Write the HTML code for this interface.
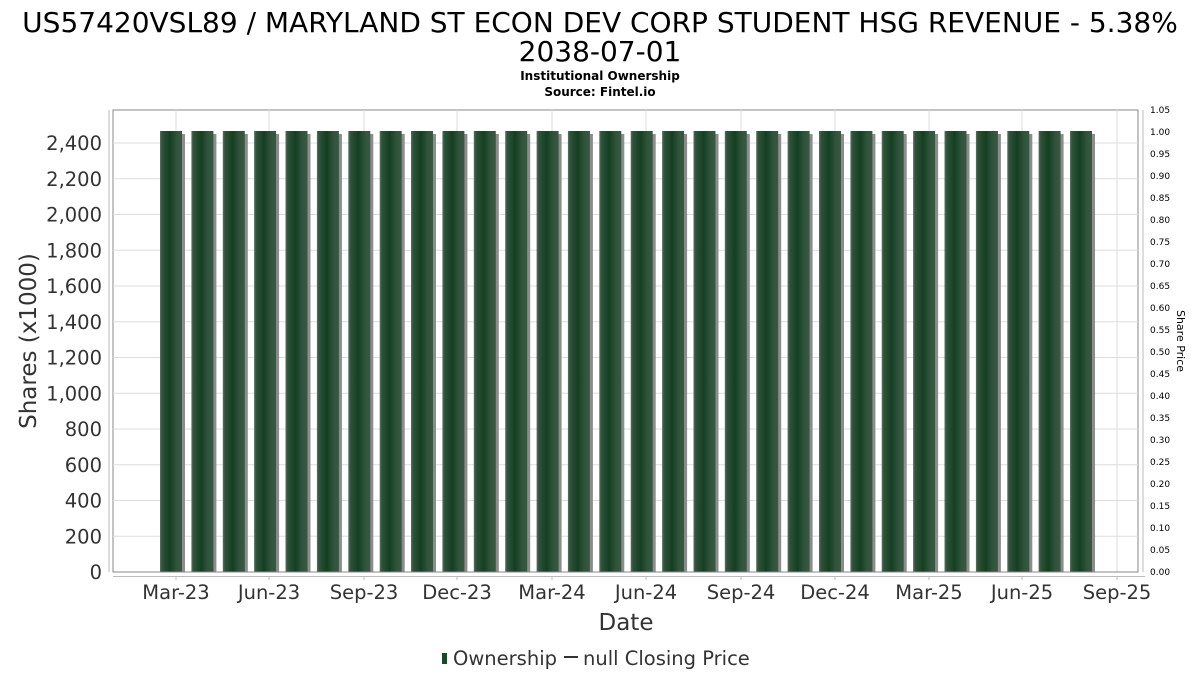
<!DOCTYPE html>
<html><head><meta charset="utf-8"><style>
body{margin:0;background:#fff;}
svg{display:block;font-family:"DejaVu Sans","Liberation Sans",sans-serif;}
</style></head><body>
<svg width="1200" height="675" viewBox="0 0 1200 675">
<defs>
<linearGradient id="g" x1="0" x2="1" y1="0" y2="0">
<stop offset="0" stop-color="#55745e"/><stop offset="0.1" stop-color="#2f523a"/><stop offset="0.45" stop-color="#143f22"/><stop offset="0.75" stop-color="#30533b"/><stop offset="1" stop-color="#3a5843"/>
</linearGradient>
<g id="b"><rect x="3" y="134" width="22" height="438" fill="#8c8c8c"/><rect x="0" y="131" width="22" height="441" fill="url(#g)"/></g>
</defs>
<text x="600" y="32" font-size="28" text-anchor="middle" fill="#000">US57420VSL89 / MARYLAND ST ECON DEV CORP STUDENT HSG REVENUE - 5.38%</text>
<text x="600" y="61" font-size="28" text-anchor="middle" fill="#000">2038-07-01</text>
<text x="600" y="80" font-size="12" font-weight="bold" text-anchor="middle">Institutional Ownership</text>
<text x="600" y="96" font-size="12" font-weight="bold" text-anchor="middle">Source: Fintel.io</text>
<rect x="113" y="110" width="1025" height="462" fill="#fff" stroke="#888" stroke-width="1"/>
<g stroke="#dddddd" stroke-width="1">
<line x1="113" x2="1138" y1="536.25" y2="536.25"/><line x1="113" x2="1138" y1="500.5" y2="500.5"/><line x1="113" x2="1138" y1="464.75" y2="464.75"/><line x1="113" x2="1138" y1="429" y2="429"/><line x1="113" x2="1138" y1="393.25" y2="393.25"/><line x1="113" x2="1138" y1="357.5" y2="357.5"/><line x1="113" x2="1138" y1="321.75" y2="321.75"/><line x1="113" x2="1138" y1="286" y2="286"/><line x1="113" x2="1138" y1="250.25" y2="250.25"/><line x1="113" x2="1138" y1="214.5" y2="214.5"/><line x1="113" x2="1138" y1="178.75" y2="178.75"/><line x1="113" x2="1138" y1="143" y2="143"/>
<line y1="110" y2="572" x1="176" x2="176"/><line y1="110" y2="572" x1="269" x2="269"/><line y1="110" y2="572" x1="364" x2="364"/><line y1="110" y2="572" x1="457" x2="457"/><line y1="110" y2="572" x1="552" x2="552"/><line y1="110" y2="572" x1="646" x2="646"/><line y1="110" y2="572" x1="741" x2="741"/><line y1="110" y2="572" x1="835" x2="835"/><line y1="110" y2="572" x1="929" x2="929"/><line y1="110" y2="572" x1="1022" x2="1022"/><line y1="110" y2="572" x1="1117" x2="1117"/>
</g>
<use href="#b" x="160"/><use href="#b" x="191.4"/><use href="#b" x="222.8"/><use href="#b" x="254.1"/><use href="#b" x="285.5"/><use href="#b" x="316.9"/><use href="#b" x="348.3"/><use href="#b" x="379.7"/><use href="#b" x="411"/><use href="#b" x="442.4"/><use href="#b" x="473.8"/><use href="#b" x="505.2"/><use href="#b" x="536.6"/><use href="#b" x="567.9"/><use href="#b" x="599.3"/><use href="#b" x="630.7"/><use href="#b" x="662.1"/><use href="#b" x="693.5"/><use href="#b" x="724.8"/><use href="#b" x="756.2"/><use href="#b" x="787.6"/><use href="#b" x="819"/><use href="#b" x="850.4"/><use href="#b" x="881.7"/><use href="#b" x="913.1"/><use href="#b" x="944.5"/><use href="#b" x="975.9"/><use href="#b" x="1007.3"/><use href="#b" x="1038.6"/><use href="#b" x="1070"/>
<line x1="113" x2="1138" y1="572" y2="572" stroke="#888"/>
<line x1="109" x2="109" y1="110" y2="572" stroke="#bbb"/>
<line x1="113" x2="1145" y1="576.5" y2="576.5" stroke="#bbb"/>
<g stroke="#bbb"><line x1="176" x2="176" y1="576" y2="580"/><line x1="269" x2="269" y1="576" y2="580"/><line x1="364" x2="364" y1="576" y2="580"/><line x1="457" x2="457" y1="576" y2="580"/><line x1="552" x2="552" y1="576" y2="580"/><line x1="646" x2="646" y1="576" y2="580"/><line x1="741" x2="741" y1="576" y2="580"/><line x1="835" x2="835" y1="576" y2="580"/><line x1="929" x2="929" y1="576" y2="580"/><line x1="1022" x2="1022" y1="576" y2="580"/><line x1="1117" x2="1117" y1="576" y2="580"/></g>
<g font-size="19.5" fill="#333" text-anchor="end">
<text x="102" y="579">0</text><text x="102" y="543.25">200</text><text x="102" y="507.5">400</text><text x="102" y="471.75">600</text><text x="102" y="436">800</text><text x="102" y="400.25">1,000</text><text x="102" y="364.5">1,200</text><text x="102" y="328.75">1,400</text><text x="102" y="293">1,600</text><text x="102" y="257.25">1,800</text><text x="102" y="221.5">2,000</text><text x="102" y="185.75">2,200</text><text x="102" y="150">2,400</text>
</g>
<g font-size="19.5" fill="#333" text-anchor="middle">
<text x="176" y="599">Mar-23</text><text x="269" y="599">Jun-23</text><text x="364" y="599">Sep-23</text><text x="457" y="599">Dec-23</text><text x="552" y="599">Mar-24</text><text x="646" y="599">Jun-24</text><text x="741" y="599">Sep-24</text><text x="835" y="599">Dec-24</text><text x="929" y="599">Mar-25</text><text x="1022" y="599">Jun-25</text><text x="1117" y="599">Sep-25</text>
</g>
<text x="626" y="630" font-size="23" fill="#333" text-anchor="middle">Date</text>
<text transform="translate(36,341) rotate(-90)" font-size="23" fill="#333" text-anchor="middle">Shares (x1000)</text>
<line x1="1143" x2="1143" y1="110" y2="572" stroke="#bbb"/>
<g font-size="9" fill="#000">
<text x="1150" y="575">0.00</text><text x="1150" y="553">0.05</text><text x="1150" y="531">0.10</text><text x="1150" y="509">0.15</text><text x="1150" y="487">0.20</text><text x="1150" y="465">0.25</text><text x="1150" y="443">0.30</text><text x="1150" y="421">0.35</text><text x="1150" y="399">0.40</text><text x="1150" y="377">0.45</text><text x="1150" y="355">0.50</text><text x="1150" y="333">0.55</text><text x="1150" y="311">0.60</text><text x="1150" y="289">0.65</text><text x="1150" y="267">0.70</text><text x="1150" y="245">0.75</text><text x="1150" y="223">0.80</text><text x="1150" y="201">0.85</text><text x="1150" y="179">0.90</text><text x="1150" y="157">0.95</text><text x="1150" y="135">1.00</text><text x="1150" y="113">1.05</text>
</g>
<text transform="translate(1177,341) rotate(90)" font-size="11" fill="#000" text-anchor="middle">Share Price</text>
<rect x="442" y="653" width="5" height="11" fill="#1b4a28"/>
<text x="453" y="665" font-size="19.5" fill="#333">Ownership</text>
<line x1="564" x2="578" y1="657" y2="657" stroke="#333" stroke-width="2"/>
<text x="583" y="665" font-size="19.5" fill="#333">null Closing Price</text>
</svg>
</body></html>
